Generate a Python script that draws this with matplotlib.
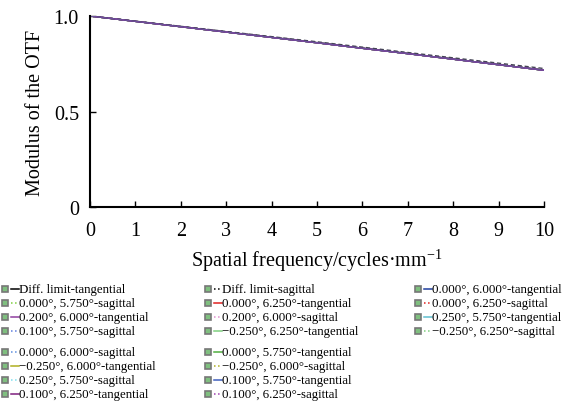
import matplotlib
matplotlib.use("Agg")
import matplotlib.pyplot as plt
from matplotlib.lines import Line2D
from matplotlib.patches import Rectangle
import numpy as np

plt.rcParams['font.family'] = ['Liberation Serif', 'DejaVu Serif']
plt.rcParams['mathtext.fontset'] = 'custom'
plt.rcParams['mathtext.rm'] = 'Liberation Serif'

freq = [0, 1, 2, 3, 4, 5, 6, 7, 8, 9, 10]
otf_field = [1.0, 0.972, 0.944, 0.916, 0.888, 0.860, 0.831, 0.803, 0.774, 0.745, 0.716]
otf_diff = [1.0, 0.973, 0.946, 0.919, 0.892, 0.865, 0.837, 0.809, 0.781, 0.753, 0.725]

# legend entries: (label, color, linestyle)
legend_block1 = [
    ("Diff. limit-tangential", "#000000", "-"),
    ("Diff. limit-sagittal", "#000000", ":"),
    ("0.000°, 6.000°-tangential", "#1f3f9f", "-"),
    ("0.000°, 5.750°-sagittal", "#7fcf3f", ":"),
    ("0.000°, 6.250°-tangential", "#e02020", "-"),
    ("0.000°, 6.250°-sagittal", "#e02020", ":"),
    ("0.200°, 6.000°-tangential", "#8f3f9f", "-"),
    ("0.200°, 6.000°-sagittal", "#e08fcf", ":"),
    ("0.250°, 5.750°-tangential", "#5fbfcf", "-"),
    ("0.100°, 5.750°-sagittal", "#5f7fdf", ":"),
    ("\u22120.250°, 6.250°-tangential", "#7fcf7f", "-"),
    ("\u22120.250°, 6.250°-sagittal", "#7fcf7f", ":"),
]
legend_block2 = [
    ("0.000°, 6.000°-sagittal", "#5f8fdf", ":"),
    ("0.000°, 5.750°-tangential", "#4faf3f", "-"),
    ("\u22120.250°, 6.000°-tangential", "#afaf1f", "-"),
    ("\u22120.250°, 6.000°-sagittal", "#afaf1f", ":"),
    ("0.250°, 5.750°-sagittal", "#7fdfef", ":"),
    ("0.100°, 5.750°-tangential", "#3f5fbf", "-"),
    ("0.100°, 6.250°-tangential", "#7f1f7f", "-"),
    ("0.100°, 6.250°-sagittal", "#9f3faf", ":"),
]

W, H = 571, 406
fig = plt.figure(figsize=(W / 100, H / 100), dpi=100)
ax = fig.add_axes([90 / W, 1 - 208 / H, (544 - 90) / W, (208 - 17) / H])

all_entries = legend_block1 + legend_block2
for label, color, ls in all_entries:
    if label.startswith("Diff."):
        continue
    ax.plot(freq, otf_field, color=color, ls=ls, lw=1.0)
ax.plot(freq, otf_field, color="#7f3f8f", ls="-", lw=1.0)
ax.plot(freq, otf_diff, color="#444455", ls=(0, (3, 2)), lw=1.0)
ax.plot(freq, otf_field, color="#6f4f9f", ls="-", lw=0.9)

ax.set_xlim(0, 10)
ax.set_ylim(0, 1.0)
ax.set_xticks(range(0, 11))
ax.set_yticks([0, 0.5, 1.0])
ax.set_yticklabels(["0", "0.5", "1.0"])
for s in ["top", "right"]:
    ax.spines[s].set_visible(False)
for s in ["left", "bottom"]:
    ax.spines[s].set_linewidth(1.5)
ax.tick_params(direction="in", length=4, width=1, labelsize=14.5)
ax.tick_params(axis="x", pad=10)
ax.tick_params(axis="y", pad=8)
ax.set_xlabel("Spatial frequency/cycles\u00b7mm$\\mathregular{^{\u22121}}$", fontsize=14.5, labelpad=5)
ax.set_ylabel("Modulus of the OTF", fontsize=14.5, labelpad=6)

# manual legend
col_x = [2, 205, 415]
rows1 = [290, 304, 318, 332]
rows2 = [353, 367, 381, 395]

def draw_entry(x, y, label, color, ls):
    fx = lambda px: px / W
    fy = lambda py: 1 - py / H
    fig.patches.append(Rectangle((fx(x), fy(y + 3)), 6 / W, 6 / H, transform=fig.transFigure,
                                 facecolor="#7fbf7f", edgecolor="#777777", lw=1.2))
    fig.lines.append(Line2D([fx(x + 9), fx(x + 17)], [fy(y), fy(y)], transform=fig.transFigure,
                            color=color, ls=ls, lw=1.1))
    fig.text(fx(x + 17), fy(y), label, fontsize=9.3, va="center", ha="left")

for i, (label, color, ls) in enumerate(legend_block1):
    draw_entry(col_x[i % 3], rows1[i // 3], label, color, ls)
for i, (label, color, ls) in enumerate(legend_block2):
    draw_entry(col_x[i % 2], rows2[i // 2], label, color, ls)

fig.savefig("out.png", dpi=100)
